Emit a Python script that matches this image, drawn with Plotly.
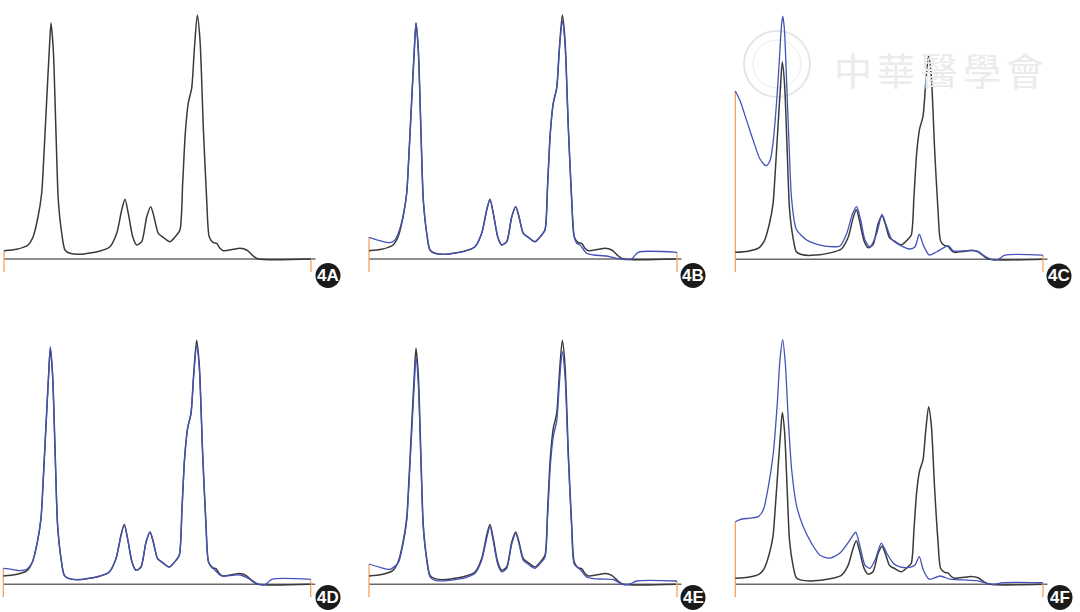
import plotly.graph_objects as go

W, H = 1080, 612

# ---------------- data (retention time in min, signal in mAU) ----------------
# reference chromatogram (black), identical in every panel
ref_t = [0, 1.27, 2.4, 2.9, 3.4, 3.77, 3.93, 4.27, 4.53, 4.7,
         4.93, 5.2, 5.43, 5.77, 6.1, 6.6, 7.6, 9.6, 10.6, 11.27,
         11.77, 12.1, 12.43, 12.87, 13.27, 13.77, 14.27, 14.67, 15.0, 15.43,
         15.93, 16.6, 17.27, 17.6, 17.87, 18.13, 18.43, 18.77, 19.03, 19.33,
         19.6, 19.93, 20.27, 20.53, 20.93, 21.27, 21.6, 21.93, 22.93, 23.6,
         24.27, 24.93, 25.43, 30.7]
ref_y = [8.3, 9.7, 14, 22, 42, 66, 92, 159, 209, 236,
         209, 126, 59, 26, 9, 5.7, 4.7, 8, 12.3, 25.7,
         49, 59.7, 45.7, 22.3, 14, 17.3, 42, 52.3, 42.3, 25.7,
         21.7, 17.3, 24, 29, 76, 126, 156, 171, 209, 244,
         219, 132, 59, 22, 16.3, 15.7, 10.7, 8.3, 9.7, 10.7,
         9, 3, 0, 0]

# sample chromatograms (blue)
b_t = [0, 1.1, 2.1, 2.6, 2.93,
       3.4, 3.77, 3.93, 4.27, 4.53, 4.7,
       4.93, 5.2, 5.43, 5.77, 6.1, 6.6, 7.6, 9.6, 10.6, 11.27,
       11.77, 12.1, 12.43, 12.87, 13.27, 13.77, 14.27, 14.67, 15.0, 15.43,
       15.93, 16.6, 17.27, 17.6, 17.87, 18.13, 18.43, 18.77, 19.03, 19.33,
       19.6, 19.93, 20.27, 20.53,
       20.77, 21.1, 21.77, 22.43, 23.77, 24.77, 25.6, 26.27, 26.93, 30.8]
b_y = [21.7, 18.3, 16.3, 19, 25.7,
       42, 66, 92, 159, 209, 236,
       209, 126, 59, 26, 9, 5.7, 4.7, 8, 12.3, 25.7,
       49, 59.7, 45.7, 22.3, 14, 17.3, 42, 52.3, 42.3, 25.7,
       21.7, 17.3, 24, 29, 76, 126, 156, 171, 209, 238,
       215, 132, 59, 22,
       15.7, 14, 5.7, 4, 3, 0.7, -0.5, 0, 6.7, 6.7]

c_t = [0, 0.47, 1.14, 1.8, 2.47, 3.07, 3.47, 3.8, 4.14, 4.4,
       4.6, 4.74, 4.9, 5.14, 5.4, 5.64, 6.1, 7.14, 8.47, 9.8,
       10.47, 11.14, 11.74, 12.14, 12.54, 12.97, 13.47, 14.14, 14.67, 15.14,
       15.64, 16.47, 17.47, 17.97, 18.4, 18.8, 19.4, 20.14, 21.3, 21.8,
       22.8, 24.14, 25.14, 25.8, 26.3, 26.97, 30.77]
c_y = [201.5, 190, 166, 142, 120, 112, 118, 142, 190, 237,
       277, 291, 277, 210, 130, 71, 36, 23, 17, 15,
       16, 31, 55, 63, 47, 23, 15, 31, 53.6, 39,
       24, 17, 12.3, 15, 30, 17, 5.1, 9, 16, 10,
       10, 10, 2.4, -0.8, 0, 5, 5]

d_t = [0, 0.84, 1.67, 2.34, 2.9,
       3.4, 3.77, 3.93, 4.27, 4.53, 4.7,
       4.93, 5.2, 5.43, 5.77, 6.1, 6.6, 7.6, 9.6, 10.6, 11.27,
       11.77, 12.1, 12.43, 12.87, 13.27, 13.77, 14.27, 14.67, 15.0, 15.43,
       15.93, 16.6, 17.27, 17.6, 17.87, 18.13, 18.43, 18.77, 19.03, 19.33,
       19.6, 19.93, 20.27, 20.53,
       21.0, 21.84, 22.9, 23.67, 24.5, 25.34, 26.0, 26.34, 26.84, 30.74]
d_y = [16, 15, 13.7, 15, 22,
       42, 66, 92, 159, 209, 237.7,
       209, 126, 59, 26, 9, 5.7, 4.7, 8, 12.3, 25.7,
       49, 60, 45.7, 22.3, 14, 17.3, 42, 52.3, 42.3, 25.7,
       21.7, 17.3, 24, 29, 76, 126, 156, 171, 207, 239,
       216, 132, 59, 22,
       16, 8.3, 9, 9.3, 6, 1, -0.7, 0.7, 5, 5]

e_t = [0, 1.1, 2.1, 2.7, 3.0,
       3.4, 3.77, 3.93, 4.27, 4.53, 4.7,
       4.93, 5.2, 5.43, 5.77, 6.1, 6.6, 7.6, 9.6, 10.6, 11.27,
       11.77, 12.1, 12.43, 12.87, 13.27, 13.77, 14.27, 14.67, 15.0, 15.43,
       15.93, 16.6, 17.27, 17.6, 17.87, 18.13, 18.43, 18.77, 19.03, 19.33,
       19.6, 19.93, 20.27, 20.53,
       21.1, 21.77, 22.43, 23.4, 24.43, 25.43, 26.1, 26.77, 30.8]
e_y = [20.3, 17, 15, 19, 23,
       40, 63, 88, 152, 200, 227.7,
       200, 120, 56, 24, 7.5, 4, 3.5, 6.5, 11, 24,
       46, 58, 43, 20, 12.5, 16, 40, 51, 40.5, 24,
       20, 16, 22.5, 27, 70, 118, 148, 163, 200, 232.7,
       208, 126, 56, 20,
       15, 7.3, 5.7, 5.2, 4.7, -0.3, 0.3, 3.3, 3.3]

f_t = [0, 0.47, 1.47, 2.3, 2.8, 3.3, 3.8, 4.2, 4.47, 4.74,
       5.0, 5.3, 5.64, 6.14, 6.8, 7.64, 8.47, 9.47, 10.47, 11.47,
       12.04, 12.47, 12.97, 13.47, 13.97, 14.6, 15.14, 15.8, 16.47, 17.47,
       17.97, 18.4, 18.8, 19.4, 20.47, 21.47, 22.8, 24.14, 25.14, 25.8,
       26.8, 30.77]
f_y = [86, 89, 91, 93, 102, 134, 180, 249, 309, 336,
       304, 226, 157, 107, 79, 56, 40, 36, 43, 61,
       71.5, 52, 26.5, 22, 33, 56.4, 43, 29, 24, 23.4,
       26.5, 38, 19.7, 7, 11.4, 7, 6, 5, 1.4, 0,
       2.2, 2.2]

panel_labels = ["4A", "4B", "4C", "4D", "4E", "4F"]
samples = [None, (b_t, b_y), (c_t, c_y), (d_t, d_y), (e_t, e_y), (f_t, f_y)]
y_top = [254, 254, 304, 254, 254, 349]  # upper end of each panel's signal axis

for t, y in [(ref_t, ref_y), (b_t, b_y), (c_t, c_y), (d_t, d_y), (e_t, e_y), (f_t, f_y)]:
    assert len(t) == len(y)

# ---------------- layout geometry (pixels) ----------------
left_px = [4, 369, 735.3, 3.3, 369, 735.3]
base_px = [259, 259, 259.3, 584.3, 584.3, 584.3]
label_c = [(328, 275.5), (693, 275.5), (1059, 276), (328, 597.5), (693, 597.5), (1060, 597.5)]
PX_PER_MIN = 10.0
XPAD = 0.3
XSPAN = 32.0
BELOW_PX = 17   # space below baseline inside panel
ABOVE_PX = 254  # space above baseline inside panel
TICK_PX = 13

BLACK = "#3a3a3a"
BLUE = "#4553b8"
ORANGE = "#f4a35c"
AXIS = "#6a6a6a"

fig = go.Figure()
layout = dict(
    width=W, height=H, margin=dict(l=0, r=0, t=0, b=0),
    paper_bgcolor="white", plot_bgcolor="white", showlegend=False,
)
shapes = []
annotations = []

for i in range(6):
    k = "" if i == 0 else str(i + 1)
    xa, ya = "x" + k, "y" + k
    scale = ABOVE_PX / y_top[i]          # px per mAU
    x0px = max(0.0, left_px[i] - XPAD * PX_PER_MIN)
    xmin = -(left_px[i] - x0px) / PX_PER_MIN
    layout["xaxis" + k] = dict(
        domain=[x0px / W, (x0px + XSPAN * PX_PER_MIN) / W],
        range=[xmin, xmin + XSPAN], visible=False, fixedrange=True,
        anchor=ya,
    )
    top_px = base_px[i] - ABOVE_PX
    bot_px = base_px[i] + BELOW_PX
    layout["yaxis" + k] = dict(
        domain=[1 - bot_px / H, 1 - top_px / H],
        range=[-BELOW_PX / scale, y_top[i]], visible=False, fixedrange=True,
        anchor=xa,
    )

    series = [(ref_t, ref_y)] + ([samples[i]] if samples[i] else [])
    t_end = max(s[0][-1] for s in series)
    y_start = max(s[1][0] for s in series)
    y_end = max(s[1][-1] for s in series)
    tick_bottom = -TICK_PX / scale

    # baseline
    shapes.append(dict(type="line", xref=xa, yref=ya, x0=0, x1=t_end + 0.45,
                       y0=0, y1=0, line=dict(color=AXIS, width=1.6), layer="below"))
    # orange start / end markers
    fig.add_trace(go.Scatter(x=[0, 0], y=[tick_bottom, y_start], mode="lines",
                             line=dict(color=ORANGE, width=1.3),
                             xaxis=xa, yaxis=ya, hoverinfo="skip", cliponaxis=False))
    fig.add_trace(go.Scatter(x=[t_end, t_end], y=[tick_bottom, y_end], mode="lines",
                             line=dict(color=ORANGE, width=1.3),
                             xaxis=xa, yaxis=ya, hoverinfo="skip", cliponaxis=False))
    # reference (black)
    fig.add_trace(go.Scatter(x=ref_t, y=ref_y, mode="lines",
                             line=dict(color=BLACK, width=1.5, shape="spline", smoothing=0.7),
                             xaxis=xa, yaxis=ya, hoverinfo="skip"))
    # sample (blue)
    if samples[i]:
        st, sy = samples[i]
        fig.add_trace(go.Scatter(x=st, y=sy, mode="lines",
                                 line=dict(color=BLUE, width=1.3, shape="spline", smoothing=0.7),
                                 xaxis=xa, yaxis=ya, hoverinfo="skip"))

    # panel label badge
    cx, cy = label_c[i]
    r = 12.5
    shapes.append(dict(type="circle", xref="paper", yref="paper",
                       x0=(cx - r) / W, x1=(cx + r) / W,
                       y0=1 - (cy + r) / H, y1=1 - (cy - r) / H,
                       fillcolor="#1a1a1a", line=dict(width=0)))
    annotations.append(dict(x=cx / W, y=1 - cy / H, xref="paper", yref="paper",
                            text="<b>" + panel_labels[i] + "</b>", showarrow=False,
                            font=dict(family="Liberation Sans Narrow, Arial Narrow, Liberation Sans, Arial",
                                      size=17, color="white"),
                            xanchor="center", yanchor="middle"))

# watermark (seal + society name)
wm_c, wm_r = (777, 64), 33
shapes.append(dict(type="circle", xref="paper", yref="paper",
                   x0=(wm_c[0] - wm_r) / W, x1=(wm_c[0] + wm_r) / W,
                   y0=1 - (wm_c[1] + wm_r) / H, y1=1 - (wm_c[1] - wm_r) / H,
                   line=dict(color="#e6e6e6", width=2), layer="below"))
shapes.append(dict(type="circle", xref="paper", yref="paper",
                   x0=(wm_c[0] - 24) / W, x1=(wm_c[0] + 24) / W,
                   y0=1 - (wm_c[1] + 24) / H, y1=1 - (wm_c[1] - 24) / H,
                   line=dict(color="#ebebeb", width=1), layer="below"))
wm_chars = ["中", "華", "醫", "學", "會"]
for j, ch in enumerate(wm_chars):
    annotations.append(dict(x=(853 + j * 43) / W, y=1 - 68 / H, xref="paper", yref="paper",
                            text=ch, showarrow=False,
                            font=dict(family="Noto Sans CJK TC", size=38, color="#ebebeb"),
                            xanchor="center", yanchor="middle"))

layout["shapes"] = shapes
layout["annotations"] = annotations
fig.update_layout(**layout)
fig.write_html("out.html", config={"displayModeBar": False},
               post_script="document.body.style.margin='0px';document.body.style.overflow='hidden';")
